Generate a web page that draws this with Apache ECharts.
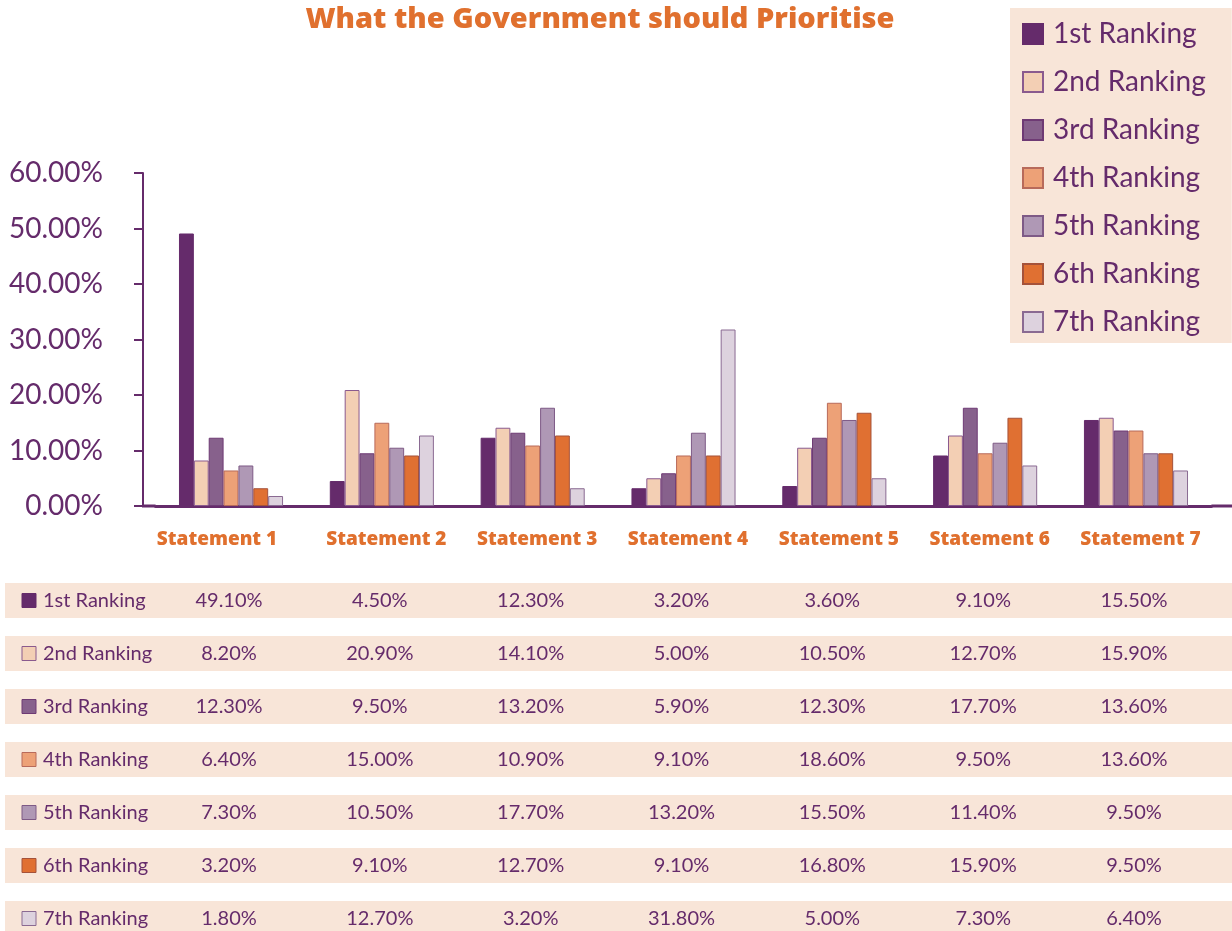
<!DOCTYPE html>
<html>
<head>
<meta charset="utf-8">
<script src="https://cdn.jsdelivr.net/npm/echarts@6/dist/echarts.min.js"></script>
<style>
html,body{margin:0;padding:0;background:#ffffff;}
#chart{width:1232px;height:931px;}
</style>
</head>
<body>
<div id="chart"></div>
<script>
// ---- data ----
const categories = ['Statement 1','Statement 2','Statement 3','Statement 4','Statement 5','Statement 6','Statement 7'];
const seriesNames = ['1st Ranking','2nd Ranking','3rd Ranking','4th Ranking','5th Ranking','6th Ranking','7th Ranking'];
const rank1 = [49.1, 4.5, 12.3, 3.2, 3.6, 9.1, 15.5];
const rank2 = [8.2, 20.9, 14.1, 5.0, 10.5, 12.7, 15.9];
const rank3 = [12.3, 9.5, 13.2, 5.9, 12.3, 17.7, 13.6];
const rank4 = [6.4, 15.0, 10.9, 9.1, 18.6, 9.5, 13.6];
const rank5 = [7.3, 10.5, 17.7, 13.2, 15.5, 11.4, 9.5];
const rank6 = [3.2, 9.1, 12.7, 9.1, 16.8, 15.9, 9.5];
const rank7 = [1.8, 12.7, 3.2, 31.8, 5.0, 7.3, 6.4];
const yTicks = [0, 10, 20, 30, 40, 50, 60];

// ---- styles ----
const allData = [rank1, rank2, rank3, rank4, rank5, rank6, rank7];
const colors = ['#652B6B','#F3CFB4','#87618C','#EDA177','#AF98B5','#E07032','#DDD2DE'];
const borders = ['#652B6B','#8A5A8E','#6E3A74','#B86A5A','#7E5A86','#A5523A','#8A6A92'];
const purple = '#652B6B';
const orange = '#E0702E';
const peach = '#F8E5D8';
const FONT = 'Lato, "Open Sans", sans-serif';
const BOLDFONT = '"Open Sans", Lato, sans-serif';

const chart = echarts.init(document.getElementById('chart'), null, {renderer: 'canvas'});

const series = seriesNames.map((name, i) => ({
  name: name,
  type: 'bar',
  data: allData[i],
  barGap: '0%',
  barCategoryGap: '31%',
  itemStyle: {color: colors[i], borderColor: borders[i], borderWidth: 1},
  emphasis: {disabled: true}
}));

const option = {
  animation: false,
  backgroundColor: '#ffffff',
  title: {
    text: 'What the Government should Prioritise',
    left: 595, top: 0, textAlign: 'center',
    textStyle: {fontFamily: BOLDFONT, fontWeight: 800, fontSize: 29, color: orange}
  },
  legend: {
    orient: 'vertical',
    left: 1010, top: 8,
    backgroundColor: peach,
    padding: [11, 26, 6, 12],
    itemWidth: 20, itemHeight: 20,
    itemGap: 18,
    icon: 'rect',
    data: seriesNames,
    textStyle: {fontFamily: FONT, fontSize: 28, color: purple, lineHeight: 30, padding: [0,0,0,5]}
  },
  grid: {left: 155.6, right: 20.6, top: 173, bottom: 425, containLabel: false},
  xAxis: {
    type: 'category',
    data: categories,
    axisLine: {lineStyle: {color: purple, width: 3}},
    axisTick: {show: false},
    axisLabel: {
      margin: 24,
      interval: 0,
      formatter: (v, idx) => idx === 0 ? '{f|' + v + '}' : '{o|' + v + '}',
      rich: {
        f: {fontFamily: BOLDFONT, fontWeight: 800, fontSize: 19, color: orange, padding: [0, 28, 0, 0]},
        o: {fontFamily: BOLDFONT, fontWeight: 800, fontSize: 19, color: orange, padding: [0, 0, 0, 9]}
      }
    }
  },
  yAxis: {
    type: 'value',
    min: yTicks[0], max: yTicks[yTicks.length - 1], interval: 10,
    offset: 12.6,
    axisLine: {show: true, lineStyle: {color: purple, width: 2}},
    axisTick: {show: true, length: 9, lineStyle: {color: purple, width: 2}},
    splitLine: {show: false},
    axisLabel: {
      margin: 40,
      fontFamily: FONT, fontSize: 28, color: purple,
      formatter: v => v.toFixed(2) + '%'
    }
  },
  series: series
};

chart.setOption(option);

// ---- extend x axis line and build data table below chart ----
const y0 = chart.convertToPixel({yAxisIndex: 0}, 0);
const gridLeft = 155.6;
const gridRight = 1232 - 20.6;
const graphics = [
  {type: 'line', shape: {x1: 142, y1: y0, x2: gridLeft, y2: y0}, style: {stroke: purple, lineWidth: 3}},
  {type: 'line', shape: {x1: gridRight, y1: y0, x2: 1232, y2: y0}, style: {stroke: purple, lineWidth: 3}}
];

const rowTop = 583, rowStep = 53, rowH = 35;
seriesNames.forEach((name, i) => {
  const top = rowTop + i * rowStep;
  const cy = top + rowH / 2;
  graphics.push({type: 'rect', shape: {x: 5, y: top, width: 1227, height: rowH}, style: {fill: peach}, z: 0});
  graphics.push({type: 'rect', shape: {x: 22, y: cy - 7, width: 14, height: 14}, style: {fill: colors[i], stroke: borders[i], lineWidth: 1}, z: 1});
  graphics.push({type: 'text', x: 43, y: cy, style: {text: name, fontFamily: FONT, fontSize: 20, fill: purple, verticalAlign: 'middle', textAlign: 'left'}, z: 1});
  allData[i].forEach((v, j) => {
    const cx = chart.convertToPixel({xAxisIndex: 0}, categories[j]) - 2;
    graphics.push({type: 'text', x: cx, y: cy, style: {text: v.toFixed(2) + '%', fontFamily: FONT, fontSize: 20, fill: purple, verticalAlign: 'middle', textAlign: 'center'}, z: 1});
  });
});

chart.setOption({graphic: graphics});
</script>
</body>
</html>
